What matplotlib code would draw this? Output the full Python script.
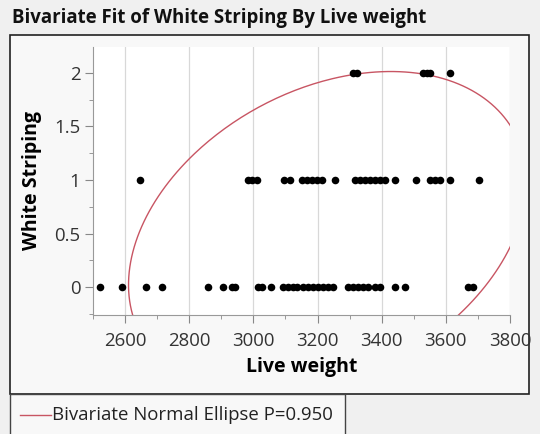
import matplotlib.pyplot as plt
import numpy as np
from matplotlib.patches import Rectangle
from matplotlib.ticker import MultipleLocator

# live weight (g) for each white striping score
weight_ws0 = [2522, 2590, 2665, 2715, 2858, 2905, 2933, 2943, 3014, 3027,
              3055, 3092, 3108, 3123, 3136, 3155, 3170, 3186, 3201, 3217,
              3233, 3248, 3295, 3310, 3326, 3342, 3357, 3379, 3395, 3441,
              3473, 3669, 3685]
weight_ws1 = [2647, 2983, 2996, 3011, 3095, 3114, 3151, 3167, 3183, 3198,
              3214, 3254, 3317, 3332, 3348, 3363, 3379, 3395, 3410, 3441,
              3507, 3550, 3566, 3582, 3613, 3703]
weight_ws2 = [3310, 3323, 3529, 3541, 3550, 3613]
scores = [0, 1, 2]

# bivariate normal fit (means, std devs, correlation)
fit_mean = [3231.0, 0.501]
fit_std = [253.4, 0.617]
fit_corr = 0.318
coverage = 0.95

x_ticks = [2600, 2800, 3000, 3200, 3400, 3600, 3800]
y_ticks = [0, 0.5, 1, 1.5, 2]
y_tick_labels = ["0", "0.5", "1", "1.5", "2"]

plt.rcParams["font.family"] = ["Open Sans", "DejaVu Sans"]

fig = plt.figure(figsize=(5.4, 4.34), dpi=100)
fig.patch.set_facecolor("#f0f0f0")

# report frame, title strip and legend box
fig.patches.append(Rectangle((10 / 540, 1 - 394 / 434), 519 / 540, 359 / 434,
                             transform=fig.transFigure, facecolor="#f8f8f8",
                             edgecolor="#222222", linewidth=1.2, zorder=-2))
fig.patches.append(Rectangle((10 / 540, -0.01), 335 / 540, 1 - 394 / 434 + 0.01,
                             transform=fig.transFigure, facecolor="#f8f8f8",
                             edgecolor="#444444", linewidth=1.0, zorder=-2))
fig.text(12 / 540, 1 - 18 / 434, "Bivariate Fit of White Striping By Live weight",
         fontsize=13.4, fontweight="bold", va="center", ha="left", color="#111111")

ax = fig.add_axes([93 / 540, 1 - 315 / 434, 417 / 540, 268 / 434])
ax.set_facecolor("white")

x = np.array(weight_ws0 + weight_ws1 + weight_ws2, dtype=float)
y = np.array([scores[0]] * len(weight_ws0) + [scores[1]] * len(weight_ws1)
             + [scores[2]] * len(weight_ws2), dtype=float)

ax.scatter(x, y, s=30, color="black", zorder=3, linewidths=0)

# density ellipse from the fitted parameters
sx, sy = fit_std
cov = np.array([[sx * sx, fit_corr * sx * sy],
                [fit_corr * sx * sy, sy * sy]])
r2 = -2 * np.log(1 - coverage)
vals, vecs = np.linalg.eigh(cov)
t = np.linspace(0, 2 * np.pi, 400)
circle = np.vstack([np.cos(t), np.sin(t)])
pts = vecs @ (np.sqrt(vals * r2)[:, None] * circle) + np.array(fit_mean)[:, None]
ax.plot(pts[0], pts[1], color="#c85563", linewidth=1.0, zorder=2)

ax.set_xlim(2500, 3800)
ax.set_ylim(-0.26, 2.24)
ax.set_xticks(x_ticks)
ax.set_yticks(y_ticks)
ax.set_yticklabels(y_tick_labels)
ax.xaxis.set_minor_locator(MultipleLocator(100))
ax.yaxis.set_minor_locator(MultipleLocator(0.25))
ax.tick_params(which="major", length=6, color="#888888", labelsize=13.4,
               labelcolor="#333333")
ax.tick_params(axis="x", which="major", pad=6)
ax.tick_params(axis="y", which="major", pad=3)
ax.tick_params(which="minor", length=3, color="#888888")
ax.grid(axis="x", color="#d8d8d8", linewidth=0.9)
ax.set_axisbelow(True)
for side in ["top", "right"]:
    ax.spines[side].set_visible(False)
for side in ["left", "bottom"]:
    ax.spines[side].set_color("#999999")

ax.set_xlabel("Live weight", fontsize=14, fontweight="bold", labelpad=5)
ax.set_ylabel("White Striping", fontsize=14, fontweight="bold", labelpad=9)

# legend entry
fig.add_artist(plt.Line2D([20 / 540, 51 / 540], [1 - 415 / 434] * 2,
                          transform=fig.transFigure, color="#c85563", linewidth=1.0))
fig.text(52 / 540, 1 - 415 / 434, "Bivariate Normal Ellipse P=0.950",
         fontsize=13.4, va="center", ha="left", color="#222222")

fig.savefig("out.png", dpi=100, facecolor=fig.get_facecolor())
